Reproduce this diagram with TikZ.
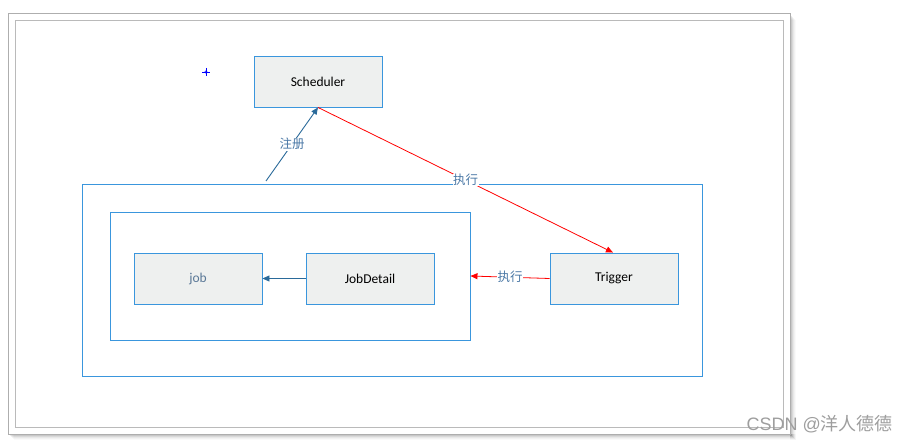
\documentclass[tikz,border=0pt]{standalone}
\usepackage{fontspec}
\setmainfont{Carlito}
\newfontfamily\cjk{Noto Sans CJK SC}
\usetikzlibrary{arrows.meta,calc}
\definecolor{boxblue}{HTML}{3A96DD}
\definecolor{boxfill}{HTML}{EEF0EF}
\definecolor{lblue}{HTML}{4A78A6}
\definecolor{jobtxt}{HTML}{5A7897}
\definecolor{darrow}{HTML}{2A6A9A}
\definecolor{frameg}{HTML}{AEAEAE}
\begin{document}
\begin{tikzpicture}[x=1pt,y=-1pt,
  comp/.style={draw=boxblue,fill=boxfill,line width=0.9pt,minimum width=128pt,minimum height=51pt,inner sep=0pt,font=\fontsize{13.5}{15}\selectfont},
  grp/.style={draw=boxblue,line width=0.9pt},
  lbl/.style={font=\cjk\fontsize{12.5}{14}\selectfont,text=lblue,fill=white,inner sep=0.5pt},
  redarr/.style={draw=red,line width=0.8pt,-{Triangle[length=7pt,width=6pt]}},
  bluearr/.style={draw=darrow,line width=0.9pt,-{Triangle[length=7pt,width=6pt]}}]
\useasboundingbox (0,0) rectangle (907,443);
\fill[white] (0,0) rectangle (907,443);
% shadow
\foreach \i/\o in {1/0.10,2/0.08,3/0.06,4/0.04,5/0.03,6/0.02}{
  \fill[black,opacity=\o] (8+\i,434) rectangle (790+\i,434+\i);
  \fill[black,opacity=\o] (790,14+\i) rectangle (790+\i,434+\i);
}
\draw[frameg,line width=1pt] (8,14) rectangle (790,434);
\draw[frameg!85,line width=1pt] (15,21) rectangle (783,427);
% groups
\node[grp,minimum width=620pt,minimum height=192pt,inner sep=0pt] (outer) at (392,280) {};
\node[grp,minimum width=360pt,minimum height=128pt,inner sep=0pt] (inner) at (290,276) {};
% components
\node[comp] (sched) at (318,81.5) {Scheduler};
\node[comp,text=jobtxt] (job) at (198,278.5) {job};
\node[comp] (jd) at (370,278.5) {JobDetail};
\node[comp] (trig) at (614,278.5) {Trigger};
% cross
\coordinate (cross) at (206,72);
\draw[blue,line width=0.8pt] ($(cross)+(-4,0)$) -- ($(cross)+(4,0)$) ($(cross)+(0,-4)$) -- ($(cross)+(0,4)$);
\draw[blue,line width=0.6pt] (cross) circle (1.3pt);
% connectors
\coordinate (regstart) at (266,181);
\draw[bluearr] (regstart) -- (sched.south) node[lbl,pos=0.5] {注册};
\draw[redarr] (sched.south) -- ($(trig.north)+(-1,0)$) node[lbl,pos=0.5] {执行};
\draw[redarr] (trig.west) -- (inner.east) node[lbl,pos=0.5] {执行};
\draw[bluearr] (jd.west) -- (job.east);
% watermark
\node[font=\fontsize{18}{20}\selectfont,text=black!38,anchor=east,inner sep=0pt] (wm) at (893,424) {\fontspec{Liberation Sans}CSDN @\cjk 洋人德德};
\end{tikzpicture}
\end{document}
